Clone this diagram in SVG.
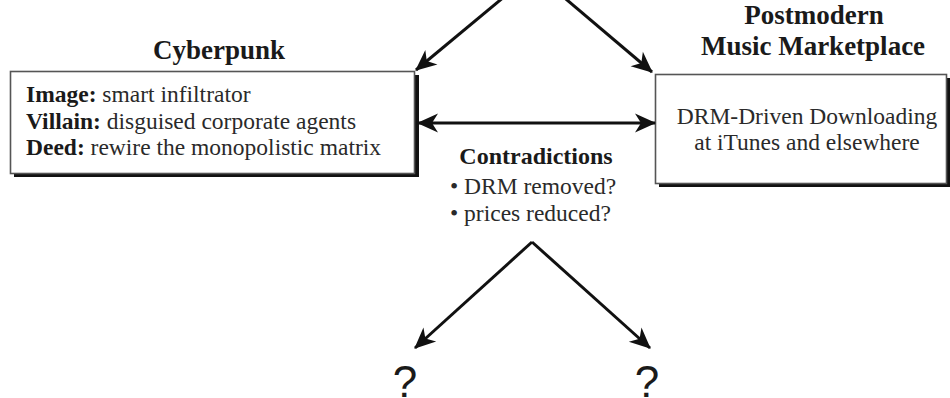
<svg xmlns="http://www.w3.org/2000/svg" width="950" height="398" viewBox="0 0 950 398">
  <defs>
    <marker id="head" viewBox="-22 -10 24 20" refX="0" refY="0" markerWidth="24" markerHeight="20" markerUnits="userSpaceOnUse" orient="auto-start-reverse">
      <path d="M1,0 L-20,-9.5 L-14,0 L-20,9.5 Z" fill="#111"/>
    </marker>
    <style>
      .box { fill: #fff; stroke: #555; stroke-width: 1.6; }
      .shadow { fill: #111; }
      .title { font-family: "Liberation Serif", "Times New Roman", serif; font-weight: bold; fill: #1a1a1a; }
      .body { font-family: "Liberation Serif", "Times New Roman", serif; font-size: 23.5px; fill: #2a2a2a; }
      .lbl { font-weight: bold; fill: #1a1a1a; }
      .q { font-family: "Liberation Sans", Arial, sans-serif; font-size: 44px; fill: #1a1a1a; }
      .link { fill: none; stroke: #111; stroke-width: 3; marker-end: url(#head); }
    </style>
  </defs>
  <rect width="950" height="398" fill="#fff"/>

  <!-- Cyberpunk node -->
  <g id="cyberpunk">
    <text class="title" x="219" y="59" font-size="27" text-anchor="middle">Cyberpunk</text>
    <rect class="shadow" x="14" y="75" width="405" height="102"/>
    <rect class="box" x="10.5" y="71.5" width="404" height="102"/>
    <text class="body" x="26" y="102"><tspan class="lbl">Image:</tspan> smart infiltrator</text>
    <text class="body" x="26" y="128.5"><tspan class="lbl">Villain:</tspan> disguised corporate agents</text>
    <text class="body" x="26" y="155"><tspan class="lbl">Deed:</tspan> rewire the monopolistic matrix</text>
  </g>

  <!-- Postmodern music marketplace node -->
  <g id="marketplace">
    <text class="title" x="814" y="24" font-size="27" text-anchor="middle">Postmodern</text>
    <text class="title" x="813" y="55" font-size="27" text-anchor="middle">Music Marketplace</text>
    <rect class="shadow" x="659" y="78" width="292" height="109"/>
    <rect class="box" x="655.5" y="74.5" width="291" height="109"/>
    <text class="body" x="807" y="123.5" text-anchor="middle">DRM-Driven Downloading</text>
    <text class="body" x="807" y="150" text-anchor="middle">at iTunes and elsewhere</text>
  </g>

  <!-- Contradictions label -->
  <g id="contradictions">
    <text class="title" x="536" y="163.5" font-size="24" text-anchor="middle">Contradictions</text>
    <text class="body" x="450" y="193.5">• DRM removed?</text>
    <text class="body" x="450" y="220.5">• prices reduced?</text>
  </g>

  <!-- Open outcomes -->
  <g id="outcome-left">
    <text class="q" x="405" y="397" text-anchor="middle">?</text>
  </g>
  <g id="outcome-right">
    <text class="q" x="647" y="397" text-anchor="middle">?</text>
  </g>

  <!-- Connectors -->
  <g id="connectors">
    <path class="link" d="M534,-28 L416,70"/>
    <path class="link" d="M534,-28 L652,72"/>
    <path class="link" d="M418,123 L655,123" marker-start="url(#head)"/>
    <path class="link" d="M532,242 L415,348"/>
    <path class="link" d="M532,242 L650,348"/>
  </g>
</svg>
